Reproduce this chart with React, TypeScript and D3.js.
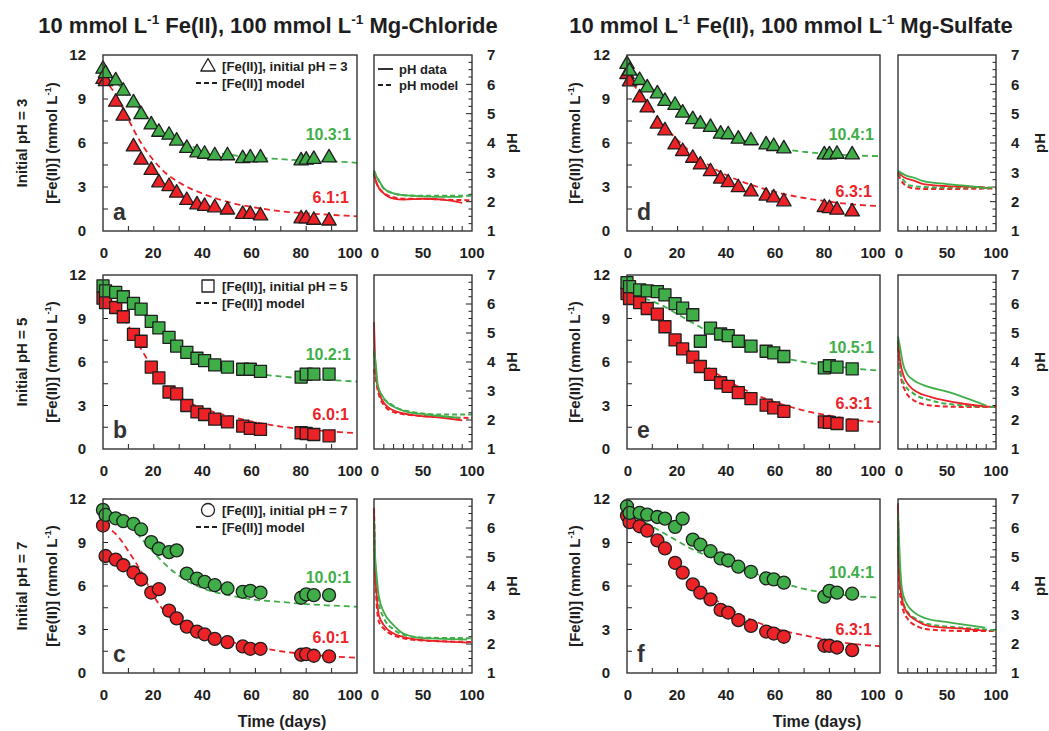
import * as d3 from "d3"
import { useEffect, useRef } from "react"

const W = 1049
const H = 731
const GREEN = "#3fae49"
const RED = "#ec2227"
const INK = "#1e1e1e"
const FONT = "'Liberation Sans', Arial, Helvetica, sans-serif"

// sampling days of the Fe(II) measurements and of the model curves
const sampleDays = [0, 1, 5, 8, 12, 15, 19, 22, 26, 29, 33, 37, 40, 44, 49, 55, 58, 62, 78, 80, 83, 89]
const modelDays = [0, 5, 10, 15, 20, 25, 30, 40, 50, 60, 70, 80, 90, 100]

// panel a - chloride, initial pH 3
const aGreen = [11.1, 10.8, 10.3, 9.6, 8.8, 8.0, 7.3, 6.8, 6.6, 6.2, 5.7, 5.4, 5.3, 5.2, 5.2, 5.0, 5.05, 5.05, 4.85, 4.9, 4.95, 5.05]
const aRed = [10.4, 10.25, 8.85, 7.9, 5.8, 4.9, 4.2, 3.35, 3.1, 2.65, 2.15, 1.85, 1.75, 1.65, 1.5, 1.2, 1.2, 1.1, 0.9, 0.9, 0.8, 0.75]
const aGreenModel = [11.0, 10.2, 9.2, 8.2, 7.3, 6.6, 6.1, 5.5, 5.2, 5.0, 4.9, 4.8, 4.75, 4.65]
const aRedModel = [10.4, 9.3, 7.6, 6.0, 4.8, 3.9, 3.3, 2.5, 1.95, 1.6, 1.35, 1.2, 1.1, 1.0]

// panel b - chloride, initial pH 5
const bGreen = [11.25, 10.9, 10.8, 10.5, 10.05, 9.65, 8.8, 8.35, 7.7, 7.1, 6.67, 6.26, 6.1, 5.8, 5.65, 5.5, 5.5, 5.35, 4.96, 5.17, 5.17, 5.17]
const bRed = [10.4, 10.1, 9.76, 9.12, 7.9, 7.43, 5.65, 4.9, 3.93, 3.8, 3.0, 2.56, 2.38, 2.06, 1.87, 1.58, 1.42, 1.35, 1.12, 1.07, 1.0, 0.91]
const bGreenModel = [11.2, 10.9, 10.3, 9.5, 8.6, 7.8, 7.1, 6.1, 5.5, 5.2, 5.0, 4.85, 4.75, 4.65]
const bRedModel = [10.4, 9.9, 8.5, 6.9, 5.5, 4.3, 3.6, 2.75, 2.25, 1.85, 1.55, 1.35, 1.2, 1.1]

// panel c - chloride, initial pH 7
const cGreen = [11.25, 10.9, 10.67, 10.47, 10.29, 9.9, 9.03, 8.57, 8.34, 8.46, 6.86, 6.51, 6.29, 6.06, 5.83, 5.6, 5.67, 5.55, 5.19, 5.42, 5.37, 5.37]
const cRed = [10.17, 8.07, 7.82, 7.43, 6.93, 6.45, 5.55, 5.78, 4.3, 3.77, 3.2, 2.86, 2.67, 2.35, 2.13, 1.83, 1.67, 1.67, 1.26, 1.3, 1.19, 1.14]
const cGreenModel = [11.0, 10.8, 10.3, 9.3, 8.3, 7.4, 6.7, 5.8, 5.35, 5.05, 4.9, 4.75, 4.65, 4.57]
const cRedModel = [10.1, 9.6, 8.4, 7.0, 5.3, 4.1, 3.45, 2.6, 2.15, 1.8, 1.5, 1.3, 1.15, 1.05]

// panel d - sulfate, initial pH 3
const dGreen = [11.43, 10.97, 10.33, 9.83, 9.42, 8.91, 8.64, 8.11, 7.66, 7.36, 7.13, 6.67, 6.63, 6.33, 6.22, 5.94, 5.83, 5.67, 5.26, 5.26, 5.3, 5.26]
const dRed = [10.74, 10.24, 9.14, 8.46, 7.36, 6.9, 5.94, 5.49, 5.03, 4.57, 4.11, 3.61, 3.36, 3.02, 2.74, 2.45, 2.33, 2.06, 1.67, 1.6, 1.49, 1.37]
const dGreenModel = [11.3, 10.5, 9.7, 9.0, 8.35, 7.8, 7.3, 6.5, 6.0, 5.65, 5.4, 5.25, 5.15, 5.1]
const dRedModel = [10.6, 9.4, 8.2, 7.1, 6.2, 5.4, 4.75, 3.75, 3.1, 2.6, 2.25, 2.0, 1.8, 1.7]

// panel e - sulfate, initial pH 5
const eGreen = [11.47, 11.2, 10.97, 10.9, 10.86, 10.63, 10.03, 9.71, 9.26, 7.43, 8.34, 7.93, 7.82, 7.43, 7.09, 6.74, 6.63, 6.38, 5.6, 5.74, 5.65, 5.53]
const eRed = [10.72, 10.38, 10.1, 9.69, 9.3, 8.43, 7.52, 6.9, 6.33, 5.69, 5.14, 4.57, 4.32, 3.89, 3.47, 3.02, 2.83, 2.6, 1.87, 1.83, 1.76, 1.65]
const eGreenModel = [11.1, 10.5, 10.2, 9.8, 9.3, 8.8, 8.3, 7.45, 6.85, 6.35, 6.0, 5.75, 5.55, 5.4]
const eRedModel = [10.7, 10.1, 9.3, 8.4, 7.5, 6.7, 5.9, 4.7, 3.8, 3.15, 2.65, 2.3, 2.0, 1.85]

// panel f - sulfate, initial pH 7
const fGreen = [11.5, 11.04, 11.04, 10.92, 10.76, 10.65, 10.08, 10.65, 9.2, 8.86, 8.4, 7.9, 7.76, 7.33, 6.98, 6.53, 6.46, 6.23, 5.27, 5.66, 5.54, 5.47]
const fRed = [10.85, 10.4, 10.12, 9.82, 9.14, 8.59, 7.6, 6.92, 6.11, 5.54, 5.08, 4.35, 4.17, 3.64, 3.25, 2.86, 2.72, 2.5, 1.88, 1.88, 1.76, 1.58]
const fGreenModel = [11.0, 10.6, 10.1, 9.6, 9.1, 8.6, 8.2, 7.5, 6.9, 6.3, 5.8, 5.5, 5.3, 5.2]
const fRedModel = [10.8, 10.2, 9.4, 8.4, 7.4, 6.5, 5.7, 4.5, 3.6, 3.0, 2.6, 2.25, 2.0, 1.85]

// pH curves: [day, pH]
const aPhGreen = [[0, 3.07], [2, 2.9], [5, 2.73], [10, 2.45], [20, 2.28], [30, 2.22], [50, 2.18], [70, 2.16], [90, 2.16]]
const aPhGreenModel = [[0, 3.05], [5, 2.7], [10, 2.45], [20, 2.28], [30, 2.22], [50, 2.2], [70, 2.2], [100, 2.2]]
const aPhRed = [[0, 2.98], [3, 2.6], [10, 2.28], [20, 2.1], [30, 2.07], [50, 2.1], [70, 2.07], [90, 1.96]]
const aPhRedModel = [[0, 2.96], [3, 2.6], [10, 2.3], [20, 2.15], [30, 2.1], [50, 2.1], [70, 2.07], [100, 2.05]]

const bPhGreen = [[0, 4.45], [2, 3.87], [4, 3.17], [11, 2.71], [22, 2.42], [32, 2.3], [53, 2.19], [70, 2.13], [88, 2.07]]
const bPhGreenModel = [[0, 4.33], [3, 3.29], [8, 2.83], [18, 2.53], [35, 2.3], [70, 2.19], [100, 2.19]]
const bPhRed = [[0, 5.38], [1, 4.22], [3, 3.29], [8, 2.71], [18, 2.36], [36, 2.19], [70, 2.07], [90, 1.99]]
const bPhRedModel = [[0, 3.75], [4, 3.0], [11, 2.48], [22, 2.25], [52, 2.13], [100, 2.07]]

const cPhGreen = [[0, 6.27], [1, 5.18], [3, 4.26], [5, 3.63], [10, 3.1], [20, 2.65], [30, 2.36], [50, 2.2], [70, 2.18], [95, 2.15]]
const cPhGreenModel = [[0, 6.4], [1, 4.9], [3, 3.9], [5, 3.4], [10, 2.9], [20, 2.5], [30, 2.32], [50, 2.22], [100, 2.2]]
const cPhRed = [[0, 6.6], [1, 4.7], [3, 3.57], [5, 2.99], [10, 2.65], [20, 2.36], [30, 2.24], [50, 2.13], [70, 2.09], [95, 2.05]]
const cPhRedModel = [[0, 6.7], [2, 3.8], [5, 2.76], [10, 2.53], [20, 2.3], [30, 2.2], [50, 2.12], [100, 2.07]]

const dPhGreen = [[0, 3.05], [9, 2.88], [16, 2.82], [26, 2.7], [50, 2.6], [84, 2.49], [92, 2.45]]
const dPhGreenModel = [[0, 3.0], [6, 2.72], [12, 2.55], [26, 2.5], [50, 2.48], [100, 2.48]]
const dPhRed = [[0, 3.02], [6, 2.83], [16, 2.72], [26, 2.6], [50, 2.53], [84, 2.5], [92, 2.45]]
const dPhRedModel = [[0, 2.94], [6, 2.6], [16, 2.45], [33, 2.43], [100, 2.45]]

const ePhGreen = [[0, 4.88], [2, 4.53], [5, 3.95], [9, 3.6], [16, 3.37], [26, 3.2], [50, 2.98], [90, 2.5]]
const ePhGreenModel = [[0, 4.76], [2, 3.72], [6, 3.26], [16, 2.91], [33, 2.68], [67, 2.5], [100, 2.45]]
const ePhRed = [[0, 4.7], [2, 4.07], [6, 3.49], [11, 3.2], [19, 2.97], [33, 2.8], [67, 2.56], [94, 2.45]]
const ePhRedModel = [[0, 4.53], [3, 3.49], [7, 3.03], [16, 2.68], [33, 2.5], [67, 2.45], [100, 2.45]]

const fPhGreen = [[0, 6.5], [2, 4.85], [4, 3.91], [8, 3.44], [19, 3.03], [29, 2.88], [49, 2.76], [89, 2.56]]
const fPhGreenModel = [[0, 5.32], [3, 3.91], [8, 3.2], [19, 2.85], [32, 2.68], [66, 2.56], [100, 2.47]]
const fPhRed = [[0, 6.85], [1, 4.5], [4, 3.56], [8, 3.15], [19, 2.8], [32, 2.62], [66, 2.53], [90, 2.45]]
const fPhRedModel = [[0, 6.8], [1, 4.27], [4, 3.33], [10, 2.86], [19, 2.62], [32, 2.5], [66, 2.45], [100, 2.45]]

const ratioGreen = ["10.3:1", "10.2:1", "10.0:1", "10.4:1", "10.5:1", "10.4:1"]
const ratioRed = ["6.1:1", "6.0:1", "6.0:1", "6.3:1", "6.3:1", "6.3:1"]
const panelLetters = ["a", "b", "c", "d", "e", "f"]
const initialPh = [3, 5, 7]
const shapes = ["triangle", "square", "circle"]

const mainYTicks = [0, 3, 6, 9, 12]
const mainXTicks = [0, 20, 40, 60, 80, 100]
const phYTicks = [1, 2, 3, 4, 5, 6, 7]
const phXTicks = [0, 50, 100]

// layout
const cols = [
  { main: [103, 357], ph: [374, 472], yLabelX: 52, titleX: 268, timeX: 282, phTitleX: 512, salt: "Mg-Chloride" },
  { main: [627, 880], ph: [898, 996], yLabelX: 575, titleX: 791, timeX: 817, phTitleX: 1040, salt: "Mg-Sulfate" },
]
const rows = [[55, 231], [275, 449], [499, 673]]
// ratio label baselines, measured down from plot top
const ratioOffsets = [[85, 148], [85, 145], [84, 144], [85, 142], [78, 134], [79, 136]]

const panelData = [
  [aGreen, aRed, aGreenModel, aRedModel, aPhGreen, aPhGreenModel, aPhRed, aPhRedModel],
  [bGreen, bRed, bGreenModel, bRedModel, bPhGreen, bPhGreenModel, bPhRed, bPhRedModel],
  [cGreen, cRed, cGreenModel, cRedModel, cPhGreen, cPhGreenModel, cPhRed, cPhRedModel],
  [dGreen, dRed, dGreenModel, dRedModel, dPhGreen, dPhGreenModel, dPhRed, dPhRedModel],
  [eGreen, eRed, eGreenModel, eRedModel, ePhGreen, ePhGreenModel, ePhRed, ePhRedModel],
  [fGreen, fRed, fGreenModel, fRedModel, fPhGreen, fPhGreenModel, fPhRed, fPhRedModel],
]

type Sel = d3.Selection<SVGGElement, unknown, null, undefined>

const drawMarker = (g: Sel, shape: string, cx: number, cy: number, fill: string) => {
  let m
  if (shape === "triangle") {
    m = g.append("path").attr("d", `M${cx},${cy - 7.5}L${cx + 7.2},${cy + 5}L${cx - 7.2},${cy + 5}Z`)
  } else if (shape === "square") {
    m = g.append("rect").attr("x", cx - 6).attr("y", cy - 6).attr("width", 12).attr("height", 12)
  } else {
    m = g.append("circle").attr("cx", cx).attr("cy", cy).attr("r", 6.5)
  }
  m.attr("fill", fill).attr("stroke", INK).attr("stroke-width", 1.3).attr("stroke-linejoin", "round")
}

const addSup = (t: any, parts: [string, boolean][], size: number) => {
  let shifted = false
  parts.forEach(([str, sup]) => {
    const ts = t.append("tspan").text(str)
    if (sup) {
      ts.attr("font-size", size * 0.62).attr("dy", -size * 0.42)
      shifted = true
    } else if (shifted) {
      ts.attr("dy", size * 0.42)
      shifted = false
    }
  })
}

export default function App() {
  const svgRef = useRef<SVGSVGElement | null>(null)

  useEffect(() => {
    if (!svgRef.current) return
    const svg = d3.select(svgRef.current)
    svg.selectAll("*").remove()
    const root = svg.append("g").style("font-family", FONT) as unknown as Sel

    root.append("rect").attr("width", W).attr("height", H).attr("fill", "#fff")

    // column titles and time axis titles
    cols.forEach((col) => {
      const t = root
        .append("text")
        .attr("x", col.titleX)
        .attr("y", 33)
        .attr("text-anchor", "middle")
        .attr("font-size", 22)
        .attr("font-weight", "bold")
        .attr("fill", INK)
      addSup(t, [["10 mmol L", false], ["-1", true], [" Fe(II), 100 mmol L", false], ["-1", true], [` ${col.salt}`, false]], 22)

      root
        .append("text")
        .attr("x", col.timeX)
        .attr("y", 727)
        .attr("text-anchor", "middle")
        .attr("font-size", 16)
        .attr("font-weight", "bold")
        .attr("fill", INK)
        .text("Time (days)")
    })

    for (let p = 0; p < 6; p++) {
      const ci = Math.floor(p / 3)
      const ri = p % 3
      const col = cols[ci]
      const [top, bottom] = rows[ri]
      const [gVals, rVals, gModel, rModel, phG, phGM, phR, phRM] = panelData[p] as any[]
      const shape = shapes[ri]

      const x = d3.scaleLinear().domain([0, 100]).range(col.main)
      // tick labels sit a little left of their ticks towards the right end
      const xLab = d3.scaleLinear().domain([0, 100]).range([col.main[0] + 1, col.main[1] - 7])
      const y = d3.scaleLinear().domain([0, 12]).range([bottom, top])
      const px = d3.scaleLinear().domain([0, 100]).range(col.ph)
      const py = d3.scaleLinear().domain([1, 7]).range([bottom, top])

      const g = root.append("g") as Sel

      // ---------- Fe(II) panel ----------
      d3.range(1.5, 12, 1.5).forEach((v) => {
        g.append("line").attr("x1", col.main[0]).attr("x2", col.main[0] + 5)
          .attr("y1", y(v)).attr("y2", y(v)).attr("stroke", INK).attr("stroke-width", 1)
      })
      d3.range(10, 100, 10).forEach((v) => {
        g.append("line").attr("x1", x(v)).attr("x2", x(v))
          .attr("y1", bottom).attr("y2", bottom - 5).attr("stroke", INK).attr("stroke-width", 1)
      })
      mainYTicks.forEach((v) => {
        g.append("text").attr("x", col.main[0] - 17).attr("y", y(v)).attr("dy", "0.36em")
          .attr("text-anchor", "end").attr("font-size", 15).attr("font-weight", "bold").attr("fill", INK)
          .text(v)
      })
      mainXTicks.forEach((v) => {
        g.append("text").attr("x", xLab(v)).attr("y", bottom + 27)
          .attr("text-anchor", "middle").attr("font-size", 15).attr("font-weight", "bold").attr("fill", INK)
          .text(v)
      })

      // y axis label
      const cy = (top + bottom) / 2
      const yl = g.append("text")
        .attr("transform", `translate(${col.yLabelX},${cy}) rotate(-90)`)
        .attr("dy", "0.36em")
        .attr("text-anchor", "middle").attr("font-size", 15).attr("font-weight", "bold").attr("fill", INK)
      addSup(yl, [["[Fe(II)] (mmol L", false], ["-1", true], [")", false]], 15)
      if (ci === 0) {
        g.append("text")
          .attr("transform", `translate(22,${cy}) rotate(-90)`)
          .attr("dy", "0.36em")
          .attr("text-anchor", "middle").attr("font-size", 15).attr("font-weight", "bold").attr("fill", INK)
          .text(`Initial pH = ${initialPh[ri]}`)
      }

      // model curves
      const modelLine = d3.line<number>()
        .x((_, i) => x(modelDays[i]))
        .y((d) => y(d))
        .curve(d3.curveMonotoneX)
      ;[[gModel, GREEN], [rModel, RED]].forEach(([vals, color]) => {
        g.append("path").attr("d", modelLine(vals as number[]))
          .attr("fill", "none").attr("stroke", color as string)
          .attr("stroke-width", 1.8).attr("stroke-dasharray", "6,4")
      })

      // measured points
      ;[[rVals, RED], [gVals, GREEN]].forEach(([vals, color]) => {
        ;(vals as number[]).forEach((v, i) => drawMarker(g, shape, x(sampleDays[i]), y(v), color as string))
      })

      // ratio labels
      const [og, or] = ratioOffsets[p]
      g.append("text").attr("x", col.main[1] - 6).attr("y", top + og).attr("text-anchor", "end")
        .attr("font-size", 16).attr("font-weight", "bold").attr("fill", GREEN).text(ratioGreen[p])
      g.append("text").attr("x", col.main[1] - 8).attr("y", top + or).attr("text-anchor", "end")
        .attr("font-size", 16).attr("font-weight", "bold").attr("fill", RED).text(ratioRed[p])

      // panel letter
      g.append("text").attr("x", col.main[0] + 10).attr("y", bottom - 11)
        .attr("font-size", 23).attr("font-weight", "bold").attr("fill", "#333").text(panelLetters[p])

      // legend (left column only)
      if (ci === 0) {
        const lg = g.append("g") as Sel
        drawMarker(lg, shape, 208, top + 11, "#fff")
        lg.append("text").attr("x", 222).attr("y", top + 11).attr("dy", "0.36em")
          .attr("font-size", 13.2).attr("font-weight", "bold").attr("fill", INK)
          .text(`[Fe(II)], initial pH = ${initialPh[ri]}`)
        lg.append("line").attr("x1", 196).attr("x2", 218).attr("y1", top + 28).attr("y2", top + 28)
          .attr("stroke", INK).attr("stroke-width", 1.8).attr("stroke-dasharray", "5,3")
        lg.append("text").attr("x", 222).attr("y", top + 28).attr("dy", "0.36em")
          .attr("font-size", 13.2).attr("font-weight", "bold").attr("fill", INK)
          .text("[Fe(II)] model")
      }

      g.append("rect").attr("x", col.main[0]).attr("y", top)
        .attr("width", col.main[1] - col.main[0]).attr("height", bottom - top)
        .attr("fill", "none").attr("stroke", "#333").attr("stroke-width", 1.4)

      // ---------- pH panel ----------
      d3.range(1.25, 7, 0.25).forEach((v) => {
        const major = Math.abs(v - Math.round(v)) < 1e-6
        g.append("line").attr("x1", col.ph[1]).attr("x2", col.ph[1] - (major ? 6 : 3.5))
          .attr("y1", py(v)).attr("y2", py(v)).attr("stroke", INK).attr("stroke-width", 1)
      })
      d3.range(10, 100, 10).forEach((v) => {
        g.append("line").attr("x1", px(v)).attr("x2", px(v))
          .attr("y1", bottom).attr("y2", bottom - 5).attr("stroke", INK).attr("stroke-width", 1)
      })
      phYTicks.forEach((v) => {
        g.append("text").attr("x", col.ph[1] + 15).attr("y", py(v)).attr("dy", "0.36em")
          .attr("font-size", 15).attr("font-weight", "bold").attr("fill", INK).text(v)
      })
      phXTicks.forEach((v) => {
        g.append("text").attr("x", px(v) + (v === 0 ? 1 : 0)).attr("y", bottom + 27)
          .attr("text-anchor", "middle").attr("font-size", 15).attr("font-weight", "bold").attr("fill", INK)
          .text(v)
      })
      g.append("text")
        .attr("transform", `translate(${col.phTitleX},${cy}) rotate(-90)`)
        .attr("dy", "0.36em")
        .attr("text-anchor", "middle").attr("font-size", 15).attr("font-weight", "bold").attr("fill", INK)
        .text("pH")

      const phLine = d3.line<number[]>()
        .x((d) => px(d[0]))
        .y((d) => py(d[1]))
        .curve(d3.curveMonotoneX)
      ;[
        [phRM, RED, true],
        [phGM, GREEN, true],
        [phR, RED, false],
        [phG, GREEN, false],
      ].forEach(([pts, color, dashed]) => {
        g.append("path").attr("d", phLine(pts as number[][]))
          .attr("fill", "none").attr("stroke", color as string)
          .attr("stroke-width", dashed ? 2 : 1.8)
          .attr("stroke-dasharray", dashed ? "5,3" : null)
      })

      if (p === 0) {
        g.append("line").attr("x1", 378).attr("x2", 393).attr("y1", top + 14).attr("y2", top + 14)
          .attr("stroke", INK).attr("stroke-width", 1.8)
        g.append("text").attr("x", 399).attr("y", top + 14).attr("dy", "0.36em")
          .attr("font-size", 13).attr("font-weight", "bold").attr("fill", INK).text("pH data")
        g.append("line").attr("x1", 378).attr("x2", 393).attr("y1", top + 30).attr("y2", top + 30)
          .attr("stroke", INK).attr("stroke-width", 1.8).attr("stroke-dasharray", "5,3")
        g.append("text").attr("x", 399).attr("y", top + 30).attr("dy", "0.36em")
          .attr("font-size", 13).attr("font-weight", "bold").attr("fill", INK).text("pH model")
      }

      g.append("rect").attr("x", col.ph[0]).attr("y", top)
        .attr("width", col.ph[1] - col.ph[0]).attr("height", bottom - top)
        .attr("fill", "none").attr("stroke", "#333").attr("stroke-width", 1.4)
    }
  }, [])

  return (
    <svg
      ref={svgRef}
      width={W}
      height={H}
      style={{ position: "absolute", left: 0, top: 0, display: "block" }}
    />
  )
}
